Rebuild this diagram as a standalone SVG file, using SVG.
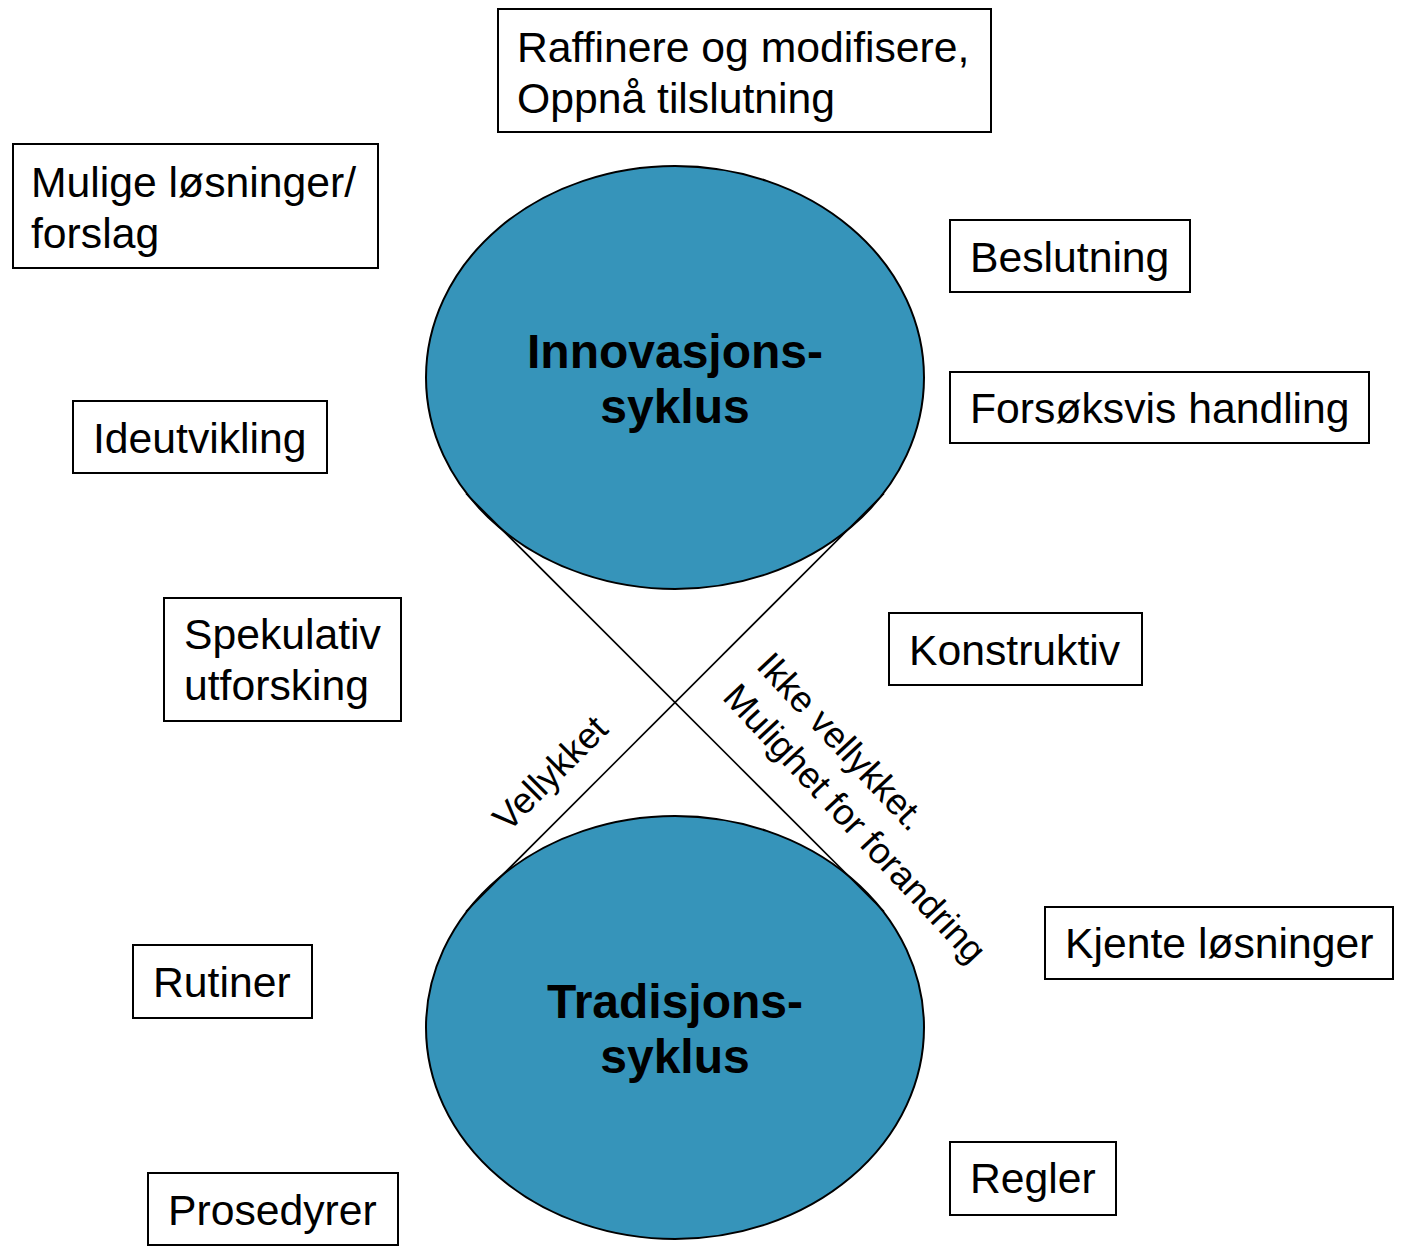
<svg xmlns="http://www.w3.org/2000/svg" width="1402" height="1249" viewBox="0 0 1402 1249">
<style>
.box{fill:#fff;stroke:#000;stroke-width:2}
.t{font-family:"Liberation Sans",Arial,sans-serif;font-size:42.7px;fill:#000}
.cyc{fill:#3694ba;stroke:#000;stroke-width:2}
.title{font-family:"Liberation Sans",Arial,sans-serif;font-size:48px;font-weight:bold;fill:#000;text-anchor:middle}
.conn{stroke:#000;stroke-width:1.6;fill:none}
.lbl{font-family:"Liberation Sans",Arial,sans-serif;font-size:36.5px;fill:#000}
</style>
<rect width="1402" height="1249" fill="#fff"/>
<g id="innovasjon">
<ellipse class="cyc" cx="675" cy="377.5" rx="249" ry="211.5"/>
<text class="title"><tspan x="675" y="368">Innovasjons-</tspan><tspan x="675" y="423">syklus</tspan></text>
</g>
<g id="tradisjon">
<ellipse class="cyc" cx="675" cy="1027.5" rx="249" ry="211.5"/>
<text class="title"><tspan x="675" y="1018">Tradisjons-</tspan><tspan x="675" y="1073">syklus</tspan></text>
</g>
<g id="connectors">
<line class="conn" x1="466" y1="493.5" x2="884" y2="911.5"/>
<line class="conn" x1="466" y1="911.5" x2="884" y2="493.5"/>
<text class="lbl" text-anchor="middle" transform="translate(559,782) rotate(-45)">Vellykket</text>
<text class="lbl" transform="translate(755,667) rotate(47)"><tspan x="0" y="0">Ikke vellykket.</tspan><tspan x="0" y="46">Mulighet for forandring</tspan></text>
</g>
<g id="raffinere">
<rect class="box" x="498" y="9" width="493" height="123"/>
<text class="t"><tspan x="517" y="62">Raffinere og modifisere,</tspan><tspan x="517" y="113">Oppnå tilslutning</tspan></text>
</g>
<g id="mulige">
<rect class="box" x="13" y="144" width="365" height="124"/>
<text class="t"><tspan x="31" y="197">Mulige løsninger/</tspan><tspan x="31" y="248">forslag</tspan></text>
</g>
<g id="beslutning">
<rect class="box" x="950" y="220" width="240" height="72"/>
<text class="t" x="970" y="272">Beslutning</text>
</g>
<g id="forsoksvis">
<rect class="box" x="950" y="372" width="419" height="71"/>
<text class="t" x="970" y="423">Forsøksvis handling</text>
</g>
<g id="ideutvikling">
<rect class="box" x="73" y="401" width="254" height="72"/>
<text class="t" x="93" y="453">Ideutvikling</text>
</g>
<g id="spekulativ">
<rect class="box" x="164" y="598" width="237" height="123"/>
<text class="t"><tspan x="184" y="649">Spekulativ</tspan><tspan x="184" y="700">utforsking</tspan></text>
</g>
<g id="konstruktiv">
<rect class="box" x="889" y="613" width="253" height="72"/>
<text class="t" x="909" y="665">Konstruktiv</text>
</g>
<g id="kjente">
<rect class="box" x="1045" y="907" width="348" height="72"/>
<text class="t" x="1065" y="958">Kjente løsninger</text>
</g>
<g id="rutiner">
<rect class="box" x="133" y="945" width="179" height="73"/>
<text class="t" x="153" y="997">Rutiner</text>
</g>
<g id="regler">
<rect class="box" x="950" y="1142" width="166" height="73"/>
<text class="t" x="970" y="1193">Regler</text>
</g>
<g id="prosedyrer">
<rect class="box" x="148" y="1173" width="250" height="72"/>
<text class="t" x="168" y="1225">Prosedyrer</text>
</g>
</svg>
